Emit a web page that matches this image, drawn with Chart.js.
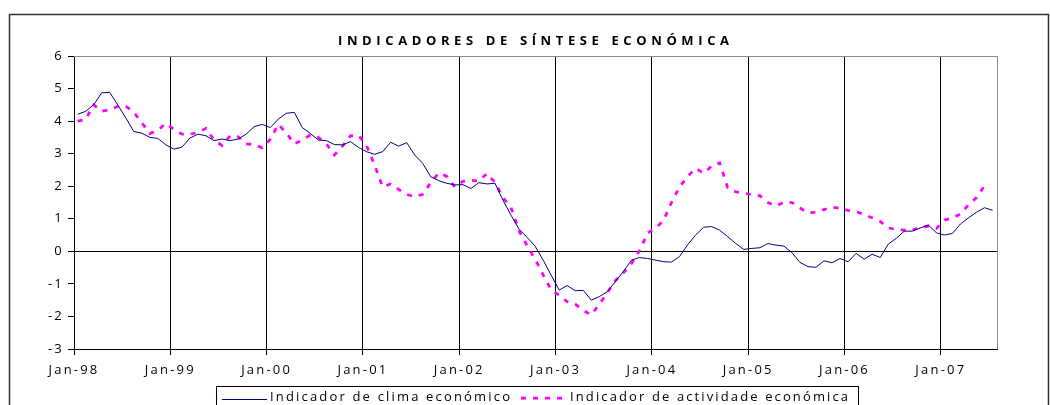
<!DOCTYPE html>
<html>
<head>
<meta charset="utf-8">
<script src="https://cdn.jsdelivr.net/npm/chart.js@4"></script>
<style>
  html, body { margin: 0; padding: 0; background: #fff; }
  canvas { display: block; }
</style>
</head>
<body>
<canvas id="chart" width="1050" height="405"></canvas>
<script>
const chartTitle = 'INDICADORES DE SÍNTESE ECONÓMICA';
const seriesNames = ['Indicador de clima económico', 'Indicador de actividade económica'];
const tickLabels = ['Jan-98', 'Jan-99', 'Jan-00', 'Jan-01', 'Jan-02', 'Jan-03', 'Jan-04', 'Jan-05', 'Jan-06', 'Jan-07'];

// monthly values, Jan-98 onwards
const climaEconomico = [
  4.21, 4.30, 4.50, 4.87, 4.88, 4.50, 4.10, 3.68, 3.63, 3.50, 3.47, 3.27,
  3.14, 3.20, 3.48, 3.60, 3.55, 3.40, 3.45, 3.40, 3.45, 3.60, 3.83, 3.90,
  3.80, 4.06, 4.24, 4.27, 3.80, 3.62, 3.42, 3.40, 3.28, 3.27, 3.37, 3.19,
  3.06, 2.98, 3.06, 3.35, 3.23, 3.34, 2.96, 2.70, 2.29, 2.17, 2.09, 2.04,
  2.05, 1.93, 2.11, 2.07, 2.09, 1.57, 1.11, 0.68, 0.43, 0.16, -0.27, -0.73,
  -1.19, -1.05, -1.21, -1.20, -1.50, -1.39, -1.24, -0.93, -0.62, -0.27, -0.19, -0.22,
  -0.27, -0.32, -0.33, -0.16, 0.20, 0.50, 0.74, 0.76, 0.65, 0.45, 0.24, 0.06,
  0.09, 0.11, 0.24, 0.19, 0.16, -0.04, -0.34, -0.47, -0.49, -0.29, -0.35, -0.22,
  -0.32, -0.06, -0.24, -0.09, -0.19, 0.22, 0.40, 0.62, 0.62, 0.72, 0.81, 0.57,
  0.50, 0.55, 0.84, 1.03, 1.20, 1.34, 1.26
];
const actividadeEconomica = [
  4.00, 4.05, 4.50, 4.30, 4.35, 4.45, 4.45, 4.28, 3.95, 3.62, 3.72, 3.93,
  3.75, 3.60, 3.60, 3.65, 3.78, 3.42, 3.25, 3.55, 3.52, 3.30, 3.28, 3.18,
  3.44, 3.90, 3.64, 3.30, 3.42, 3.57, 3.50, 3.30, 2.96, 3.23, 3.55, 3.57,
  3.25, 2.65, 1.98, 2.07, 1.90, 1.75, 1.68, 1.75, 2.11, 2.41, 2.30, 1.98,
  2.15, 2.18, 2.16, 2.39, 2.12, 1.65, 1.35, 0.63, 0.18, -0.24, -0.72, -1.18,
  -1.35, -1.55, -1.62, -1.82, -1.95, -1.63, -1.27, -0.90, -0.66, -0.38, 0.02, 0.56,
  0.71, 0.95, 1.50, 1.98, 2.30, 2.55, 2.40, 2.62, 2.72, 1.95, 1.83, 1.79,
  1.74, 1.71, 1.50, 1.39, 1.51, 1.50, 1.33, 1.18, 1.20, 1.28, 1.36, 1.32,
  1.26, 1.22, 1.13, 1.03, 0.92, 0.72, 0.67, 0.65, 0.65, 0.74, 0.77, 0.70,
  0.96, 1.02, 1.15, 1.43, 1.65, 2.02
];

// x = months since Jan-98, each value dated mid-month
const toPoints = vals => vals.map((v, i) => ({ x: i + 0.45, y: v }));

function spacedText(ctx, text, x, y, width) {
  ctx.letterSpacing = '0px';
  const w = ctx.measureText(text).width;
  ctx.letterSpacing = ((width - w) / (text.length - 1)) + 'px';
  ctx.fillText(text, x, y);
}

const frame = {
  id: 'frame',
  beforeLayout(chart) { chart.ctx.letterSpacing = '2.2px'; },
  beforeDraw(chart) { chart.ctx.letterSpacing = '2.2px'; },
  afterDraw(chart) {
    const ctx = chart.ctx;
    const a = chart.chartArea;
    ctx.save();
    ctx.strokeStyle = '#333';
    ctx.lineWidth = 1.5;
    ctx.beginPath();
    ctx.moveTo(9.5, 410);
    ctx.lineTo(9.5, 14.5);
    ctx.lineTo(1048.5, 14.5);
    ctx.lineTo(1048.5, 410);
    ctx.stroke();

    ctx.strokeStyle = '#8c8c8c';
    ctx.lineWidth = 1;
    ctx.beginPath();
    ctx.moveTo(a.left, Math.round(a.top) + 0.5);
    ctx.lineTo(Math.round(a.right) + 0.5, Math.round(a.top) + 0.5);
    ctx.lineTo(Math.round(a.right) + 0.5, a.bottom);
    ctx.stroke();

    ctx.fillStyle = '#000';
    ctx.textAlign = 'left';
    ctx.textBaseline = 'alphabetic';
    ctx.font = 'bold 13px "Open Sans"';
    spacedText(ctx, chartTitle, 338, 45, 391);

    // legend
    ctx.letterSpacing = '0px';
    ctx.strokeStyle = '#000';
    ctx.lineWidth = 1;
    ctx.strokeRect(216.5, 386.5, 642, 30);
    ctx.strokeStyle = '#000080';
    ctx.beginPath();
    ctx.moveTo(222, 399.5);
    ctx.lineTo(267, 399.5);
    ctx.stroke();
    ctx.strokeStyle = '#ff00ff';
    ctx.lineWidth = 2.75;
    ctx.setLineDash([5, 7]);
    ctx.beginPath();
    ctx.moveTo(521, 398);
    ctx.lineTo(567, 398);
    ctx.stroke();
    ctx.setLineDash([]);
    ctx.font = '13px "Open Sans"';
    spacedText(ctx, seriesNames[0], 270, 401, 240);
    spacedText(ctx, seriesNames[1], 570, 401, 278);
    ctx.restore();
  }
};

const axisFont = { family: 'Open Sans', size: 13 };

new Chart(document.getElementById('chart'), {
  type: 'line',
  data: {
    datasets: [{
        label: seriesNames[0],
        data: toPoints(climaEconomico),
        borderColor: '#000080',
        borderWidth: 1,
        pointRadius: 0,
        fill: false
      }, {
        label: seriesNames[1],
        data: toPoints(actividadeEconomica),
        borderColor: '#ff00ff',
        borderWidth: 2.75,
        borderDash: [5, 7],
        pointRadius: 0,
        fill: false
      }
    ]
  },
  options: {
    responsive: false,
    animation: false,
    events: [],
    layout: { padding: { top: 56, right: 53, left: 0, bottom: 0 } },
    plugins: {
      legend: { display: false },
      title: { display: false },
      tooltip: { enabled: false }
    },
    scales: {
      x: {
        type: 'linear',
        min: 0,
        max: 115,
        afterFit: s => { s.height = 56; },
        ticks: {
          stepSize: 12,
          includeBounds: false,
          autoSkip: false,
          maxRotation: 0,
          padding: 7,
          color: '#000',
          font: axisFont,
          callback: v => tickLabels[v / 12]
        },
        grid: { color: '#000', tickColor: '#000', tickLength: 6 },
        border: { color: '#000' }
      },
      y: {
        min: -3,
        max: 6,
        afterFit: s => { s.width = 74; },
        ticks: { stepSize: 1, padding: 4, color: '#000', font: axisFont },
        grid: {
          color: c => c.tick.value === 0 ? '#000' : 'rgba(0,0,0,0)',
          tickColor: '#000',
          tickLength: 6
        },
        border: { color: '#000' }
      }
    }
  },
  plugins: [frame]
});
</script>
</body>
</html>
